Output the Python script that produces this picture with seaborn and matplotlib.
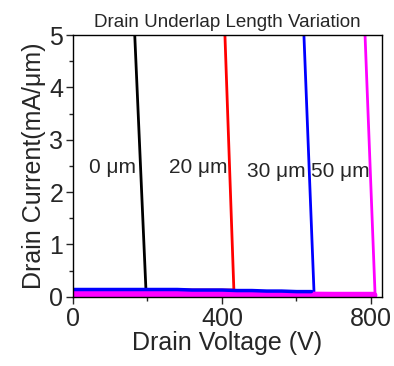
import seaborn as sns
from matplotlib import pyplot as plt
from matplotlib.ticker import MultipleLocator

# off-state leakage (V, mA/um)
leak_v = [0, 40, 80, 120, 160, 200, 240, 280, 320, 360, 400, 440, 480,
          520, 560, 600, 640]
leak_30um = [0.14, 0.14, 0.14, 0.14, 0.14, 0.14, 0.14, 0.14, 0.13, 0.13,
             0.13, 0.12, 0.12, 0.11, 0.11, 0.10, 0.10]
leak_v_50 = [0, 100, 200, 300, 400, 500, 600, 700, 808]
leak_50um = [0.055, 0.055, 0.05, 0.05, 0.045, 0.04, 0.035, 0.03, 0.03]

# breakdown branches: start on the leakage level, run past the top
v_0um = [0, 196, 166]
i_0um = [0.14, 0.14, 5.0]
v_20um = [0, 432, 408]
i_20um = [0.13, 0.13, 5.0]
v_30um = [640, 647, 620]
i_30um = [0.10, 0.10, 5.0]
v_50um = [808, 811, 784]
i_50um = [0.03, 0.03, 5.0]

labels = ["0 \u03bcm", "20 \u03bcm", "30 \u03bcm", "50 \u03bcm"]
label_x = [105, 336, 545, 717]
label_y = [2.48, 2.48, 2.40, 2.40]

sns.set_style("ticks")
plt.rcParams['font.family'] = ['Liberation Sans', 'DejaVu Sans']

fig = plt.figure(figsize=(3.94, 3.66), dpi=100)
ax = fig.add_axes([0.185, 0.189, 0.785, 0.715])

for v, i, c in [(v_0um, i_0um, "black"), (v_20um, i_20um, "red"),
                (v_30um, i_30um, "blue"), (v_50um, i_50um, "magenta")]:
    sns.lineplot(x=v, y=i, color=c, sort=False, estimator=None,
                 linewidth=2, ax=ax)

sns.lineplot(x=leak_v_50, y=leak_50um, color="magenta", estimator=None,
             linewidth=5, ax=ax)
sns.lineplot(x=leak_v, y=leak_30um, color="blue", estimator=None,
             linewidth=2.5, ax=ax)

for t, x, y in zip(labels, label_x, label_y):
    ax.text(x, y, t, fontsize=15, ha="center", va="center")

ax.set_xlim(0, 830)
ax.set_ylim(0, 5)
ax.xaxis.set_major_locator(MultipleLocator(400))
ax.xaxis.set_minor_locator(MultipleLocator(200))
ax.yaxis.set_major_locator(MultipleLocator(1))
ax.yaxis.set_minor_locator(MultipleLocator(0.5))
ax.tick_params(which="major", length=5, width=1, labelsize=18, pad=2)
ax.tick_params(which="minor", length=3, width=1)
for s in ax.spines.values():
    s.set_visible(True)
    s.set_linewidth(1)
    s.set_color("black")

ax.set_xlabel("Drain Voltage (V)", fontsize=18, labelpad=0)
ax.set_ylabel("Drain Current(mA/\u03bcm)", fontsize=18, labelpad=2)
ax.set_title("Drain Underlap Length Variation", fontsize=13.5, pad=6)

fig.savefig("out.png", dpi=100)
